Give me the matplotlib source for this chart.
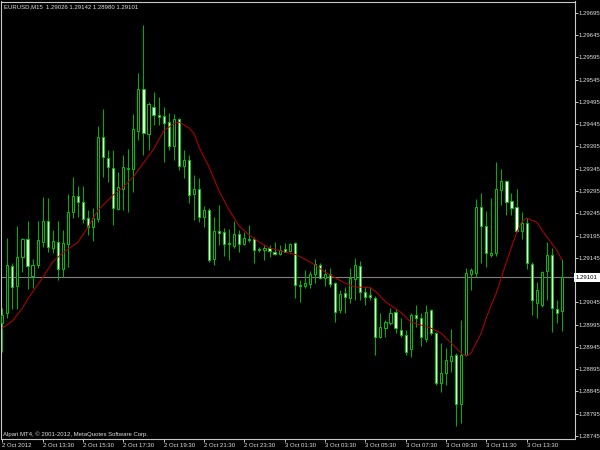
import matplotlib
matplotlib.use("Agg")
import matplotlib.pyplot as plt
import matplotlib.transforms as mtransforms

plt.rcParams['font.family'] = ['Liberation Sans', 'DejaVu Sans']

opens = [1.28998, 1.29021, 1.29126, 1.29082, 1.29147, 1.29187, 1.29104, 1.29129, 1.29180, 1.29228,
         1.29167, 1.29180, 1.29120, 1.29176, 1.29248, 1.29284, 1.29270, 1.29234, 1.29214, 1.29232,
         1.29416, 1.29369, 1.29347, 1.29255, 1.29300, 1.29345, 1.29345, 1.29430, 1.29524, 1.29423,
         1.29484, 1.29466, 1.29464, 1.29450, 1.29396, 1.29457, 1.29351, 1.29365, 1.29288, 1.29300,
         1.29237, 1.29252, 1.29142, 1.29205, 1.29203, 1.29178, 1.29171, 1.29198, 1.29176, 1.29187,
         1.29187, 1.29165, 1.29162, 1.29167, 1.29158, 1.29153, 1.29165, 1.29160, 1.29178, 1.29084,
         1.29082, 1.29086, 1.29109, 1.29129, 1.29100, 1.29109, 1.29088, 1.29028, 1.29066, 1.29055,
         1.29097, 1.29126, 1.29068, 1.29061, 1.29055, 1.28967, 1.28987, 1.28998, 1.29023, 1.28983,
         1.28972, 1.28940, 1.29016, 1.29010, 1.28963, 1.29028, 1.28976, 1.28864, 1.28886, 1.28913,
         1.28927, 1.28816, 1.28927, 1.29109, 1.29111, 1.29259, 1.29216, 1.29151, 1.29156, 1.29297,
         1.29318, 1.29273, 1.29259, 1.29205, 1.29223, 1.29131, 1.29043, 1.29039, 1.29115, 1.29151,
         1.29030, 1.29026]
highs = [1.29032, 1.29189, 1.29133, 1.29216, 1.29189, 1.29228, 1.29142, 1.29228, 1.29282, 1.29279,
         1.29207, 1.29228, 1.29207, 1.29288, 1.29327, 1.29306, 1.29306, 1.29252, 1.29257, 1.29441,
         1.29479, 1.29387, 1.29387, 1.29338, 1.29376, 1.29389, 1.29468, 1.29560, 1.29668, 1.29495,
         1.29518, 1.29506, 1.29484, 1.29470, 1.29468, 1.29459, 1.29387, 1.29376, 1.29331, 1.29324,
         1.29261, 1.29257, 1.29237, 1.29264, 1.29212, 1.29210, 1.29228, 1.29207, 1.29203, 1.29219,
         1.29192, 1.29169, 1.29174, 1.29174, 1.29180, 1.29174, 1.29178, 1.29178, 1.29180, 1.29095,
         1.29118, 1.29115, 1.29142, 1.29133, 1.29120, 1.29122, 1.29091, 1.29073, 1.29079, 1.29122,
         1.29145, 1.29138, 1.29079, 1.29079, 1.29059, 1.29021, 1.29005, 1.29032, 1.29030, 1.29010,
         1.28983, 1.29021, 1.29039, 1.29021, 1.29039, 1.29030, 1.28978, 1.28954, 1.28942, 1.28985,
         1.28931, 1.29005, 1.29122, 1.29122, 1.29277, 1.29291, 1.29250, 1.29279, 1.29360, 1.29345,
         1.29320, 1.29291, 1.29300, 1.29248, 1.29234, 1.29136, 1.29091, 1.29115, 1.29180, 1.29167,
         1.29050, 1.29142]
lows = [1.28933, 1.29010, 1.29030, 1.29030, 1.29113, 1.29075, 1.29077, 1.29122, 1.29169, 1.29158,
        1.29156, 1.29095, 1.29102, 1.29124, 1.29234, 1.29237, 1.29223, 1.29196, 1.29183, 1.29225,
        1.29327, 1.29315, 1.29219, 1.29252, 1.29252, 1.29248, 1.29293, 1.29410, 1.29376, 1.29387,
        1.29443, 1.29443, 1.29360, 1.29387, 1.29365, 1.29342, 1.29324, 1.29268, 1.29230, 1.29225,
        1.29214, 1.29136, 1.29129, 1.29174, 1.29149, 1.29140, 1.29167, 1.29158, 1.29174, 1.29180,
        1.29133, 1.29158, 1.29140, 1.29147, 1.29151, 1.29151, 1.29158, 1.29158, 1.29055, 1.29046,
        1.29077, 1.29077, 1.29088, 1.29097, 1.29082, 1.29079, 1.29001, 1.29021, 1.29021, 1.29043,
        1.29050, 1.29050, 1.29039, 1.29050, 1.28927, 1.28965, 1.28967, 1.28994, 1.28976, 1.28967,
        1.28927, 1.28922, 1.28989, 1.28947, 1.28956, 1.28972, 1.28859, 1.28843, 1.28859, 1.28888,
        1.28767, 1.28774, 1.28924, 1.29073, 1.29102, 1.29133, 1.29124, 1.29147, 1.29149, 1.29264,
        1.29241, 1.29241, 1.29203, 1.29187, 1.29120, 1.29016, 1.29010, 1.29034, 1.29050, 1.28978,
        1.28998, 1.28980]
closes = [1.29016, 1.29129, 1.29079, 1.29147, 1.29187, 1.29126, 1.29129, 1.29185, 1.29228, 1.29169,
          1.29183, 1.29120, 1.29178, 1.29248, 1.29284, 1.29270, 1.29232, 1.29214, 1.29234, 1.29416,
          1.29371, 1.29349, 1.29257, 1.29304, 1.29349, 1.29347, 1.29434, 1.29524, 1.29425, 1.29491,
          1.29466, 1.29461, 1.29448, 1.29396, 1.29457, 1.29351, 1.29365, 1.29286, 1.29300, 1.29237,
          1.29252, 1.29140, 1.29205, 1.29201, 1.29176, 1.29176, 1.29198, 1.29176, 1.29189, 1.29185,
          1.29162, 1.29162, 1.29167, 1.29160, 1.29153, 1.29162, 1.29158, 1.29176, 1.29084, 1.29082,
          1.29088, 1.29109, 1.29131, 1.29100, 1.29109, 1.29086, 1.29023, 1.29064, 1.29057, 1.29100,
          1.29129, 1.29068, 1.29057, 1.29057, 1.28967, 1.28989, 1.29001, 1.29021, 1.28987, 1.28972,
          1.28933, 1.29016, 1.29010, 1.28967, 1.29023, 1.28976, 1.28864, 1.28886, 1.28915, 1.28924,
          1.28816, 1.28927, 1.29111, 1.29118, 1.29259, 1.29216, 1.29156, 1.29156, 1.29300, 1.29318,
          1.29270, 1.29257, 1.29205, 1.29223, 1.29133, 1.29050, 1.29073, 1.29113, 1.29151, 1.29032,
          1.29021, 1.29101]

ma_idx = [0, 2, 4, 5, 8, 10, 12, 15, 17, 19, 22, 24, 26, 28, 30, 32, 34, 35, 37, 38,
          39, 41, 43, 45, 47, 49, 51, 53, 56, 58, 60, 62, 64, 66, 68, 70, 72, 73, 74, 76,
          79, 81, 83, 85, 87, 89, 91, 92, 93, 95, 96, 97, 98, 99, 100, 102, 103, 104, 106, 108,
          110, 111]
ma_val = [1.28987, 1.29003, 1.29032, 1.29052, 1.29100, 1.29136, 1.29156, 1.29180, 1.29214, 1.29252,
          1.29286, 1.29304, 1.29327, 1.29358, 1.29389, 1.29430, 1.29446, 1.29450, 1.29437, 1.29425,
          1.29394, 1.29349, 1.29295, 1.29252, 1.29216, 1.29196, 1.29180, 1.29167, 1.29158, 1.29153,
          1.29142, 1.29129, 1.29113, 1.29100, 1.29088, 1.29079, 1.29079, 1.29077, 1.29070, 1.29046,
          1.29023, 1.29001, 1.28994, 1.28987, 1.28976, 1.28954, 1.28931, 1.28924, 1.28931, 1.28976,
          1.29010, 1.29039, 1.29066, 1.29100, 1.29136, 1.29201, 1.29225, 1.29234, 1.29225, 1.29192,
          1.29162, 1.29140]

time_tick_idx = [0, 8, 16, 24, 32, 40, 48, 56, 64, 72, 80, 88, 96, 104]
time_labels = ["2 Oct 2012", "2 Oct 13:30", "2 Oct 15:30", "2 Oct 17:30", "2 Oct 19:30",
               "2 Oct 21:30", "2 Oct 23:30", "3 Oct 01:30", "3 Oct 03:30", "3 Oct 05:30",
               "3 Oct 07:30", "3 Oct 09:30", "3 Oct 11:30", "3 Oct 13:30"]
price_ticks = [1.28745, 1.28795, 1.28845, 1.28895, 1.28945, 1.28995, 1.29045, 1.29095, 1.29145,
               1.29195, 1.29245, 1.29295, 1.29345, 1.29395, 1.29445, 1.29495, 1.29545, 1.29595,
               1.29645, 1.29695]
last_price = 1.29101
header = "EURUSD,M15  1.29026 1.29142 1.28980 1.29101"
footer = "Alpari MT4, \u00a9 2001-2012, MetaQuotes Software Corp."

W, H = 600, 450
fig = plt.figure(figsize=(6, 4.5), dpi=100, facecolor='black')
L, R, T, B = 1.0, 574.5, 1.5, 438.5
ax = fig.add_axes([L / W, 1 - B / H, (R - L) / W, (B - T) / H])
ax.set_facecolor('black')

GREEN = '#00c800'
WICK = '#00b000'
FRAME = '#c8c8c8'
TXT = '#e0e0e0'

n = len(opens)
xs = list(range(n))
ax.vlines(xs, lows, highs, color=WICK, linewidth=0.75, zorder=2)
bottoms = [min(o, c) for o, c in zip(opens, closes)]
heights = [max(abs(c - o), 0.000012) for o, c in zip(opens, closes)]
fills = ['black' if c > o else 'white' for o, c in zip(opens, closes)]
ax.bar(xs, heights, bottom=bottoms, width=0.42, color=fills, edgecolor=GREEN,
       linewidth=0.7, zorder=3)

ax.plot(ma_idx, ma_val, color='#b40000', linewidth=0.75, zorder=4)
ax.axhline(last_price, color='#808080', linewidth=0.8, zorder=1)

ax.set_xlim(-0.26, 113.5)
ax.set_ylim(1.287389, 1.297208)

for s in ax.spines.values():
    s.set_color(FRAME)
    s.set_linewidth(0.8)

# the current-price box hides the 1.29095 label, as in the reference
ax.yaxis.tick_right()
ax.set_yticks(price_ticks)
ax.set_yticklabels(["" if abs(p - 1.29095) < 1e-7 else f"{p:.5f}" for p in price_ticks])
ax.tick_params(axis='y', which='both', length=2, width=0.7, pad=1.2,
               labelsize=4.3, colors=TXT, color=FRAME)
ax.set_xticks(time_tick_idx)
ax.set_xticklabels(time_labels, ha='left')
ax.tick_params(axis='x', which='both', length=2.5, width=0.7, pad=1.0,
               labelsize=4.3, colors=TXT, color=FRAME)
for lab in ax.get_xticklabels():
    lab.set_horizontalalignment('left')

trans = mtransforms.blended_transform_factory(ax.transAxes, ax.transData)
ax.text(1.0 + 1.5 / (R - L), last_price, f"{last_price:.5f}", transform=trans,
        ha='left', va='center', fontsize=4.3, color='black', clip_on=False,
        bbox=dict(boxstyle='square,pad=0.3', facecolor='white', edgecolor='none'))

fig.text(4 / W, 1 - 6.5 / H, header, ha='left', va='center', fontsize=4.3, color=TXT)
fig.text(3 / W, 1 - 434.5 / H, footer, ha='left', va='center', fontsize=4.3, color=TXT)

fig.savefig('out.png', dpi=100, facecolor='black')
